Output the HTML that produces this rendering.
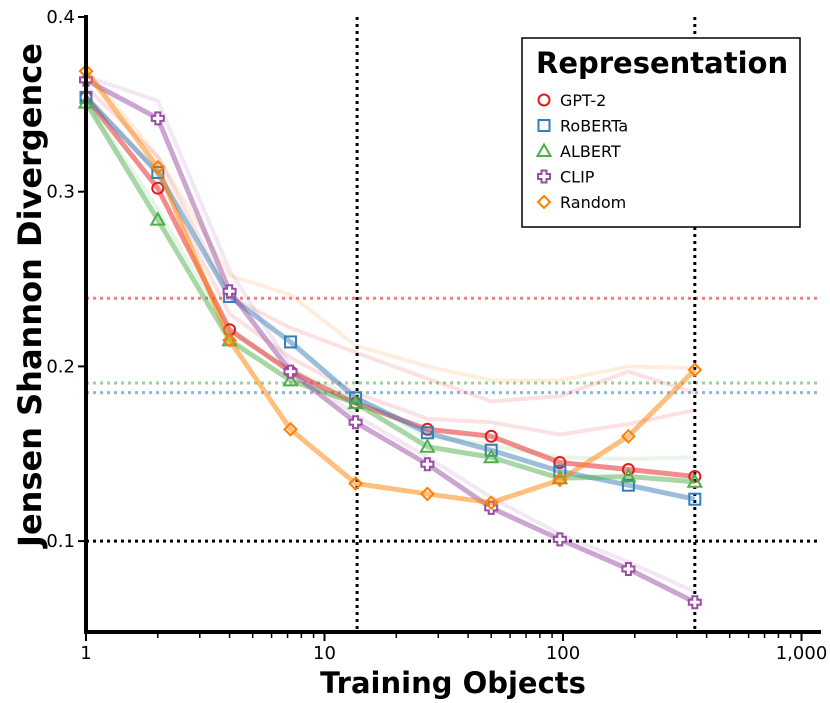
<!DOCTYPE html>
<html><head><meta charset="utf-8">
<style>
body{margin:0;background:#fff;}
svg{display:block;font-family:"DejaVu Sans","Liberation Sans",sans-serif;}
</style></head>
<body>
<svg id="chart" width="830" height="703" viewBox="0 0 830 703" xmlns="http://www.w3.org/2000/svg">
<g id="grid"></g>
<g id="faint"></g>
<g id="series"></g>
<g id="axes"></g>
<g id="legend"></g>
</svg>
<script>
const xValues = [1, 2, 4, 7.2, 13.5, 27, 50, 97, 188, 357];
const gpt2 = [0.354, 0.302, 0.221, 0.197, 0.179, 0.164, 0.160, 0.145, 0.141, 0.137];
const roberta = [0.354, 0.311, 0.240, 0.214, 0.182, 0.162, 0.152, 0.140, 0.132, 0.124];
const albert = [0.351, 0.284, 0.215, 0.192, 0.179, 0.154, 0.148, 0.136, 0.137, 0.134];
const clip = [0.364, 0.342, 0.243, 0.197, 0.168, 0.144, 0.119, 0.101, 0.084, 0.065];
const random = [0.369, 0.314, 0.215, 0.164, 0.133, 0.127, 0.122, 0.135, 0.160, 0.198];
const randomFaint = [0.37, 0.32, 0.252, 0.241, 0.212, 0.200, 0.192, 0.192, 0.200, 0.199];
const gpt2Faint = [0.36, 0.32, 0.24, 0.222, 0.208, 0.193, 0.180, 0.183, 0.197, 0.185];
const gpt2Faint2 = [0.355, 0.31, 0.23, 0.205, 0.185, 0.170, 0.168, 0.161, 0.167, 0.175];
const albertFaint = [0.352, 0.29, 0.22, 0.198, 0.182, 0.160, 0.155, 0.148, 0.147, 0.148];
const clipFaint = [0.366, 0.352, 0.255, 0.20, 0.172, 0.148, 0.125, 0.104, 0.088, 0.071];
const hLines = [0.239, 0.1905, 0.185, 0.1];
const hColors = ['#e41a1c', '#4daf4a', '#377eb8', '#000'];
const vLines = [13.7, 357];
const yTicks = [0.1, 0.2, 0.3, 0.4];
const xTicks = [1, 10, 100, 1000];
const xTickLabels = ['1', '10', '100', '1,000'];
const seriesNames = ['GPT-2', 'RoBERTa', 'ALBERT', 'CLIP', 'Random'];

const NS = 'http://www.w3.org/2000/svg';
const X0 = 86, DEC = 238.5, Y04 = 17, PER = 1747;
const xs = v => X0 + Math.log10(v) * DEC;
const ys = v => Y04 + (0.4 - v) * PER;
const LEFT = 86, RIGHT = 821, TOP = 17, BOTTOM = 632;
function mk(tag, attrs, parent) { const e = document.createElementNS(NS, tag); for (const k in attrs) e.setAttribute(k, attrs[k]); parent.appendChild(e); return e; }

const grid = document.getElementById('grid');
hLines.forEach((v, i) => {
  const l = mk('line', {x1: LEFT, x2: RIGHT, y1: ys(v), y2: ys(v), stroke: hColors[i], 'stroke-width': 3, 'stroke-dasharray': '3,4', opacity: i < 3 ? 0.55 : 1}, grid);
  
  
});
vLines.forEach(v => {
  const l = mk('line', {x1: xs(v), x2: xs(v), y1: TOP, y2: BOTTOM, stroke: '#000', 'stroke-width': 3, 'stroke-dasharray': '3,4'}, grid);
  
  
});

const colors = ['#e41a1c', '#377eb8', '#4daf4a', '#984ea3', '#ff7f00'];
const faint = document.getElementById('faint');
[[randomFaint, 4], [gpt2Faint, 0], [gpt2Faint2, 0], [albertFaint, 2], [clipFaint, 3]].forEach(([d, c]) => {
  const p = mk('polyline', {points: d.map((v, i) => xs(xValues[i]) + ',' + ys(v)).join(' '), fill: 'none', stroke: colors[c], 'stroke-width': 4, opacity: 0.13}, faint);
  
  
});

function marker(g, type, cx, cy, col) {
  let e;
  if (type === 0) e = mk('circle', {cx, cy, r: 5.5}, g);
  else if (type === 1) e = mk('rect', {x: cx - 5.5, y: cy - 5.5, width: 11, height: 11}, g);
  else if (type === 2) e = mk('polygon', {points: `${cx},${cy-6.5} ${cx+6.5},${cy+5} ${cx-6.5},${cy+5}`}, g);
  else if (type === 3) e = mk('path', {d: `M${cx-2.5},${cy-6}h5v3.5h3.5v5h-3.5v3.5h-5v-3.5h-3.5v-5h3.5z`}, g);
  else e = mk('polygon', {points: `${cx},${cy-6} ${cx+6},${cy} ${cx},${cy+6} ${cx-6},${cy}`}, g);
  e.setAttribute('fill', type === 3 ? '#fff' : 'none');
  e.setAttribute('stroke', col);
  e.setAttribute('stroke-width', 2);
  
  
  return e;
}

const sg = document.getElementById('series');
[gpt2, roberta, albert, clip, random].forEach((d, s) => {
  const g = mk('g', {}, sg);
  
  
  const pl = mk('polyline', {points: d.map((v, i) => xs(xValues[i]) + ',' + ys(v)).join(' '), fill: 'none', stroke: colors[s], 'stroke-width': 5, opacity: 0.5, 'stroke-linejoin': 'round'}, g);
  
  
  d.forEach((v, i) => marker(g, s, xs(xValues[i]), ys(v), colors[s]));
});

const ax = document.getElementById('axes');
let a = mk('line', {x1: LEFT, x2: LEFT, y1: TOP - 2, y2: BOTTOM + 2, stroke: '#000', 'stroke-width': 4}, ax);
 
a = mk('line', {x1: LEFT - 2, x2: RIGHT, y1: BOTTOM, y2: BOTTOM, stroke: '#000', 'stroke-width': 4}, ax);
 
yTicks.forEach(v => {
  mk('line', {x1: LEFT - 8, x2: LEFT, y1: ys(v), y2: ys(v), stroke: '#000', 'stroke-width': 2}, ax);
  const t = mk('text', {x: LEFT - 11, y: ys(v) + 6, 'text-anchor': 'end', 'font-size': 18}, ax);
  t.textContent = v.toFixed(1);
   
});
xTicks.forEach((v, i) => {
  mk('line', {x1: xs(v), x2: xs(v), y1: BOTTOM, y2: BOTTOM + 9, stroke: '#000', 'stroke-width': 2}, ax);
  const t = mk('text', {x: xs(v), y: BOTTOM + 27, 'text-anchor': 'middle', 'font-size': 18}, ax);
  t.textContent = xTickLabels[i];
   
  if (i < 3) for (let m = 2; m <= 9; m++) mk('line', {x1: xs(v * m), x2: xs(v * m), y1: BOTTOM, y2: BOTTOM + 6, stroke: '#000', 'stroke-width': 1.5}, ax);
});
mk('line', {x1: xs(2000), x2: xs(2000), y1: BOTTOM, y2: BOTTOM + 6, stroke: '#000', 'stroke-width': 1.5}, ax);
let t = mk('text', {x: 453, y: 693, 'text-anchor': 'middle', 'font-size': 29, 'font-weight': 'bold'}, ax);
t.textContent = 'Training Objects';
 
t = mk('text', {x: 0, y: 0, 'text-anchor': 'middle', 'font-size': 32, 'font-weight': 'bold', transform: 'translate(41,295) rotate(-90)'}, ax);
t.textContent = 'Jensen Shannon Divergence';
 

const lg = document.getElementById('legend');
const box = mk('rect', {x: 522, y: 38, width: 278, height: 189, fill: '#fff', stroke: '#000', 'stroke-width': 1.5}, lg);
 
t = mk('text', {x: 536, y: 73, 'font-size': 29, 'font-weight': 'bold'}, lg);
t.textContent = 'Representation';
 
seriesNames.forEach((n, i) => {
  const y = 100 + i * 25.5;
  const g = mk('g', {}, lg);
   
  marker(g, i, 544, y, colors[i]);
  const tx = mk('text', {x: 560, y: y + 6, 'font-size': 16}, g);
  tx.textContent = n;
   
});
</script>
</body></html>
